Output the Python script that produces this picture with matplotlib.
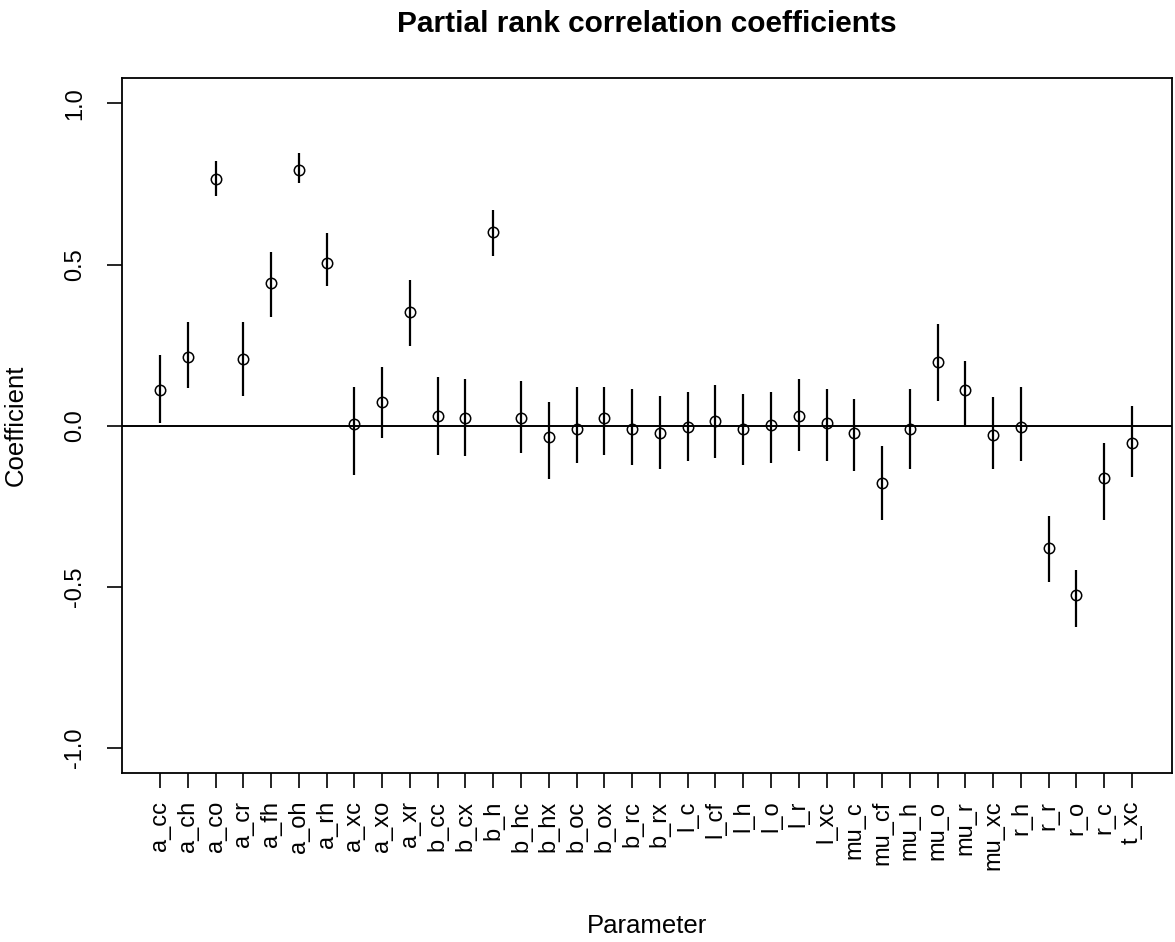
import matplotlib
matplotlib.use("Agg")
import matplotlib.pyplot as plt
import numpy as np

params = ["a_cc", "a_ch", "a_co", "a_cr", "a_fh", "a_oh", "a_rh", "a_xc", "a_xo", "a_xr",
          "b_cc", "b_cx", "b_h", "b_hc", "b_hx", "b_oc", "b_ox", "b_rc", "b_rx",
          "l_c", "l_cf", "l_h", "l_o", "l_r", "l_xc",
          "mu_c", "mu_cf", "mu_h", "mu_o", "mu_r", "mu_xc",
          "r_h", "r_r", "r_o", "r_c", "t_xc"]
coef = [0.112, 0.213, 0.767, 0.207, 0.442, 0.794, 0.506, 0.006, 0.074, 0.353,
        0.029, 0.023, 0.602, 0.023, -0.035, -0.010, 0.023, -0.010, -0.023,
        -0.003, 0.016, -0.010, 0.003, 0.029, 0.010,
        -0.023, -0.176, -0.010, 0.199, 0.112, -0.029,
        -0.003, -0.379, -0.525, -0.162, -0.054]
upper = [0.221, 0.322, 0.821, 0.322, 0.540, 0.846, 0.597, 0.120, 0.184, 0.451,
         0.151, 0.145, 0.668, 0.139, 0.075, 0.120, 0.120, 0.114, 0.094,
         0.106, 0.126, 0.100, 0.106, 0.145, 0.114,
         0.082, -0.064, 0.114, 0.316, 0.200, 0.088,
         0.120, -0.281, -0.447, -0.052, 0.062]
lower = [0.008, 0.116, 0.713, 0.091, 0.339, 0.753, 0.434, -0.153, -0.037, 0.249,
         -0.090, -0.095, 0.528, -0.083, -0.165, -0.115, -0.090, -0.121, -0.133,
         -0.109, -0.101, -0.121, -0.115, -0.077, -0.109,
         -0.140, -0.292, -0.133, 0.078, -0.003, -0.133,
         -0.109, -0.484, -0.623, -0.292, -0.159]
yticks = [-1.0, -0.5, 0.0, 0.5, 1.0]

plt.rcParams['font.family'] = ['Liberation Sans', 'DejaVu Sans']

fig = plt.figure(figsize=(11.75, 9.42), dpi=100)
ax = fig.add_axes([122/1175, (942-773)/942, 1050/1175, 695/942])

x = np.arange(1, len(params) + 1)
ax.vlines(x, lower, upper, color='black', linewidth=1.6)
ax.plot(x, coef, linestyle='none', marker='o', markersize=7.5,
        markerfacecolor='none', markeredgecolor='black', markeredgewidth=1.1)
ax.axhline(0, color='black', linewidth=1.4)

ax.set_xlim(1 - 38/27.77, 36 + 40/27.77)
ax.set_ylim(-1.077, 1.079)
ax.set_xticks(x)
ax.set_xticklabels(params, rotation=90, fontsize=17)
ax.set_yticks(yticks)
ax.set_yticklabels([f"{v:.1f}" for v in yticks], rotation=90, va='center', fontsize=17)
ax.tick_params(axis='both', length=11, width=1.2, color='black')
ax.tick_params(axis='x', pad=9)
ax.tick_params(axis='y', pad=15)
for s in ax.spines.values():
    s.set_linewidth(1.3)

ax.set_title("Partial rank correlation coefficients", fontsize=21.5, fontweight='bold', pad=33)
ax.set_xlabel("Parameter", fontsize=18.5)
ax.set_ylabel("Coefficient", fontsize=18.5)
ax.xaxis.set_label_coords(0.5, (773 - 914) / 695)
ax.yaxis.set_label_coords((28 - 122) / 1050, 0.5)

fig.savefig("out.png", dpi=100)
